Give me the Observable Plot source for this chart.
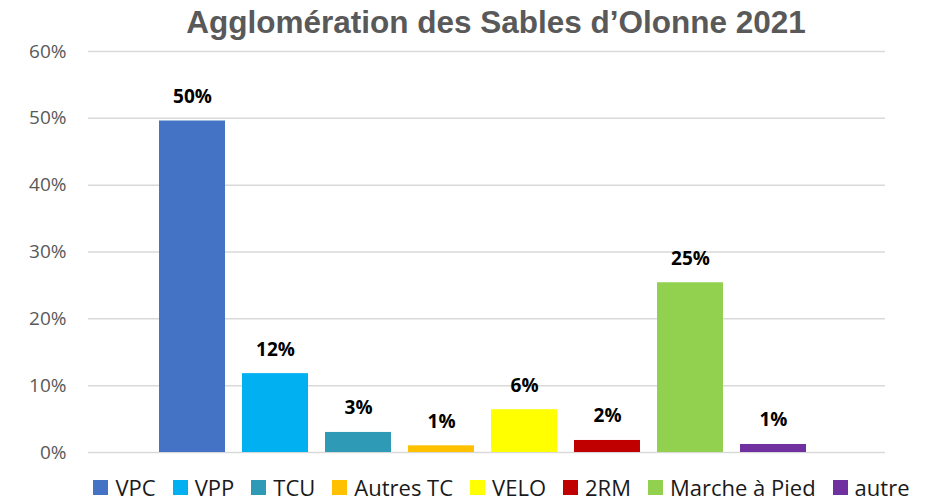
<!DOCTYPE html>
<html>
<head>
<meta charset="utf-8">
<script src="https://cdn.jsdelivr.net/npm/d3@7"></script>
<script src="https://cdn.jsdelivr.net/npm/@observablehq/plot@0.6"></script>
<style>
  html, body { margin: 0; padding: 0; background: #fff; }
  #wrap { position: relative; width: 946px; height: 501px; overflow: hidden; }
  #title { position: absolute; top: 4px; left: 0; width: 992px; text-align: center; line-height: 36px;
           font-family: "Liberation Sans", Arial, sans-serif; font-weight: bold; font-size: 31.5px; color: #595959; }
  #legend { position: absolute; top: 475px; left: 0; width: 1003px; display: flex; justify-content: center;
            font-family: "Open Sans", sans-serif; font-size: 22px; line-height: 24px; color: #1a1a1a; }
  .item { display: flex; align-items: center; margin: 0 8.5px; white-space: nowrap; }
  .sw { width: 15px; height: 15px; margin-right: 7px; }
</style>
</head>
<body>
<div id="wrap">
  <div id="chart"></div>
  <div id="title"></div>
  <div id="legend"></div>
</div>
<script>
const title = "Agglomération des Sables d’Olonne 2021";
const categories = ["VPC", "VPP", "TCU", "Autres TC", "VELO", "2RM", "Marche à Pied", "autre"];
const values = [0.496, 0.118, 0.030, 0.010, 0.064, 0.018, 0.254, 0.012];
const colors = ["#4472C4", "#00B0F0", "#2E9AB5", "#FFC000", "#FFFF00", "#C00000", "#92D050", "#7030A0"];
const yTicks = [0, 0.1, 0.2, 0.3, 0.4, 0.5, 0.6];

const data = categories.map((c, i) => ({cat: c, value: values[i]}));
const pct = d3.format(".0%");

const plot = Plot.plot({
  width: 946,
  height: 470,
  marginLeft: 88,
  marginRight: 61,
  marginTop: 51,
  marginBottom: 18,
  style: {fontFamily: "'Open Sans', sans-serif", background: "#fff"},
  x: {domain: categories, range: [142, 823], padding: 0.205, round: false, axis: null},
  y: {domain: [0, 0.6], label: null, axis: null},
  color: {domain: categories, range: colors},
  marks: [
    Plot.ruleY(yTicks, {stroke: "#d9d9d9", strokeWidth: 1.5}),
    Plot.axisY({ticks: yTicks, tickFormat: pct, tickSize: 0, tickPadding: 22, fontSize: 19, color: "#595959", label: null}),
    Plot.barY(data, {x: "cat", y: "value", fill: "cat"}),
    Plot.text(data, {x: "cat", y: "value", text: d => pct(d.value), dy: -18, lineAnchor: "bottom",
      fontSize: 19, fontWeight: "bold", fill: "#000"})
  ]
});
document.getElementById("chart").appendChild(plot);
document.getElementById("title").textContent = title;

const legend = document.getElementById("legend");
categories.forEach((c, i) => {
  const item = document.createElement("div");
  item.className = "item";
  const sw = document.createElement("div");
  sw.className = "sw";
  sw.style.background = colors[i];
  const lab = document.createElement("span");
  lab.textContent = c;
  item.appendChild(sw);
  item.appendChild(lab);
  legend.appendChild(item);
});
</script>
</body>
</html>
